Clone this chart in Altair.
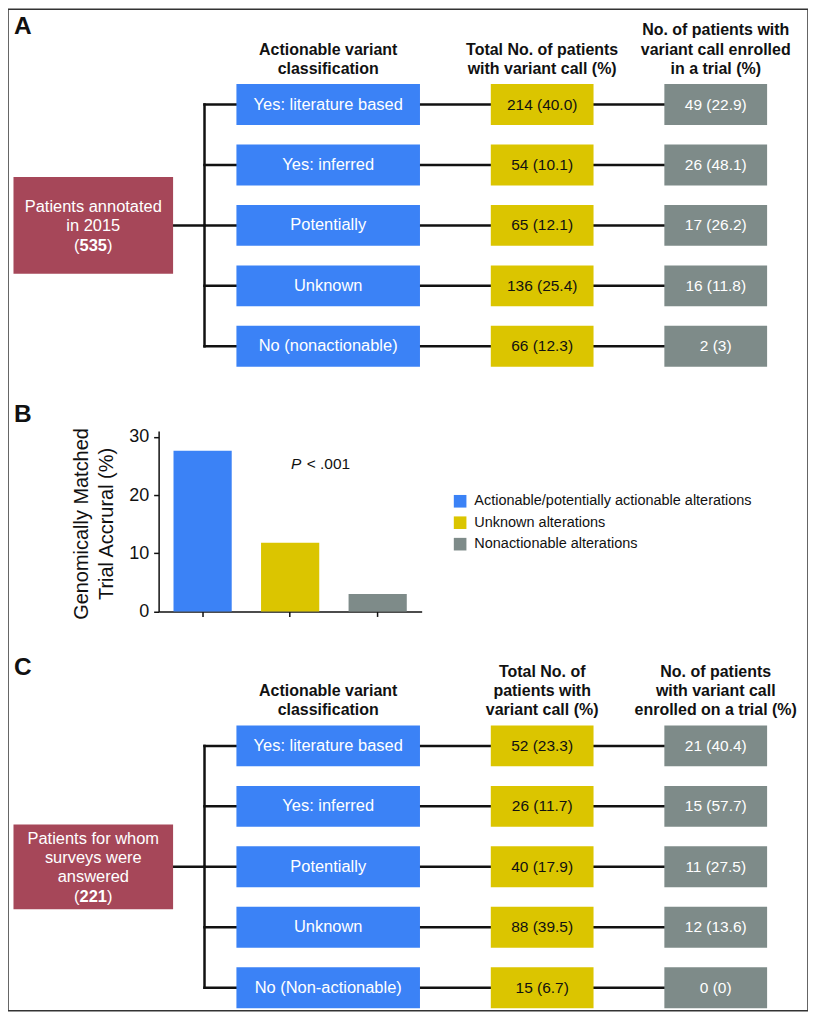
import altair as alt
import pandas as pd

# ------------------------------------------------------------------ data
panel_letters = ["A", "B", "C"]

classes_A = ["Yes: literature based", "Yes: inferred", "Potentially", "Unknown", "No (nonactionable)"]
total_A = ["214 (40.0)", "54 (10.1)", "65 (12.1)", "136 (25.4)", "66 (12.3)"]
enrolled_A = ["49 (22.9)", "26 (48.1)", "17 (26.2)", "16 (11.8)", "2 (3)"]
root_A_lines = ["Patients annotated", "in 2015"]
root_A_n = "535"
headers_A = [["Actionable variant", "classification"],
             ["Total No. of patients", "with variant call (%)"],
             ["No. of patients with", "variant call enrolled", "in a trial (%)"]]

classes_C = ["Yes: literature based", "Yes: inferred", "Potentially", "Unknown", "No (Non-actionable)"]
total_C = ["52 (23.3)", "26 (11.7)", "40 (17.9)", "88 (39.5)", "15 (6.7)"]
enrolled_C = ["21 (40.4)", "15 (57.7)", "11 (27.5)", "12 (13.6)", "0 (0)"]
root_C_lines = ["Patients for whom", "surveys were", "answered"]
root_C_n = "221"
headers_C = [["Actionable variant", "classification"],
             ["Total No. of", "patients with", "variant call (%)"],
             ["No. of patients", "with variant call", "enrolled on a trial (%)"]]

bar_groups = ["Actionable/potentially actionable alterations", "Unknown alterations",
              "Nonactionable alterations"]
bar_values = [27.6, 11.8, 3.0]
y_ticks = [0, 10, 20, 30]
y_title_lines = ["Genomically Matched", "Trial Accrural (%)"]
p_symbol = "P"
p_rest = "< .001"

# ------------------------------------------------------------------ style / layout
FONT = "Liberation Sans"
BLUE, YELLOW, GRAY, RED, INK = "#3b82f6", "#dbc500", "#7e8b89", "#a64759", "#111111"
FILLS = [BLUE, YELLOW, GRAY]
TEXT_COLORS = ["white", "#111111", "white"]

OFF = 8                      # page margin
W, H = 802, 1004
COLS = [(237, 421), (492, 595), (666, 769)]
ROOT_X = (13.5, 173.5)
TRUNK_X = 205
ROW_TOP = 83
ROW_PITCH = 60.6
BOX_H = 41
PANEL_DY = {"A": 0, "C": 643}
ROOT_H = {"A": 97, "C": 85}
HEADER_LAST = 67.8
LINE_PITCH = 19.3
LETTER_BASE = {"A": 33.3, "B": 421.5, "C": 675.8}

SX = alt.Scale(domain=[OFF, OFF + W], range=[0, W], nice=False, zero=False)
SY = alt.Scale(domain=[OFF, OFF + H], range=[0, H], nice=False, zero=False)

# ------------------------------------------------------------------ build diagram tables
rects, rules, texts_c, texts_bold_hdr, paren_l, paren_r, bold_num = [], [], [], [], [], [], []


def add_panel(key, classes, total, enrolled, root_lines, root_n, headers):
    dy = PANEL_DY[key]
    cols_vals = [classes, total, enrolled]
    centers = []
    for i in range(len(classes)):
        top = ROW_TOP + dy + i * ROW_PITCH
        cy = top + BOX_H / 2
        centers.append(cy)
        for c, (x0, x1) in enumerate(COLS):
            rects.append(dict(x=x0, x2=x1, y=top, y2=top + BOX_H, fill=FILLS[c]))
            texts_c.append(dict(x=(x0 + x1) / 2, y=cy, text=cols_vals[c][i], color=TEXT_COLORS[c],
                                size=16.5 if c == 0 else 15.5))
        rules.append(dict(x=TRUNK_X, x2=COLS[0][0], y=cy, y2=cy))
        rules.append(dict(x=COLS[0][1], x2=COLS[1][0], y=cy, y2=cy))
        rules.append(dict(x=COLS[1][1], x2=COLS[2][0], y=cy, y2=cy))
    mid = centers[len(centers) // 2]
    rules.append(dict(x=TRUNK_X, x2=TRUNK_X, y=centers[0], y2=centers[-1]))
    rules.append(dict(x=ROOT_X[1], x2=TRUNK_X, y=mid, y2=mid))
    # root box
    rh = ROOT_H[key]
    rects.append(dict(x=ROOT_X[0], x2=ROOT_X[1], y=mid - rh / 2, y2=mid + rh / 2, fill=RED))
    n = len(root_lines) + 1
    rcx = (ROOT_X[0] + ROOT_X[1]) / 2
    for k, line in enumerate(root_lines):
        y = mid + 1 + (k - (n - 1) / 2) * LINE_PITCH
        texts_c.append(dict(x=rcx, y=y, text=line, color="white", size=16.5))
    y_last = mid + 1 + ((n - 1) / 2) * LINE_PITCH
    half = len(root_n) * 0.556 * 16.5 / 2
    paren_l.append(dict(x=rcx - half, y=y_last, text="(", color="white"))
    paren_r.append(dict(x=rcx + half, y=y_last, text=")", color="white"))
    bold_num.append(dict(x=rcx, y=y_last, text=root_n, color="white"))
    # headers (bottom aligned)
    for c, lines in enumerate(headers):
        x0, x1 = COLS[c]
        for k, line in enumerate(lines):
            y = HEADER_LAST + dy - (len(lines) - 1 - k) * LINE_PITCH
            texts_bold_hdr.append(dict(x=(x0 + x1) / 2, y=y, text=line, color=INK))


add_panel("A", classes_A, total_A, enrolled_A, root_A_lines, root_A_n, headers_A)
add_panel("C", classes_C, total_C, enrolled_C, root_C_lines, root_C_n, headers_C)

letters = pd.DataFrame([dict(x=14, y=LETTER_BASE[k], text=k, color=INK) for k in panel_letters])
ytitle = pd.DataFrame([dict(x=82 + 25 * k, y=524, text=t, color=INK) for k, t in enumerate(y_title_lines)])
pval_i = pd.DataFrame([dict(x=291.7, y=464, text=p_symbol, color=INK)])
pval_r = pd.DataFrame([dict(x=307.5, y=464, text=p_rest, color=INK)])


def xy(df):
    return dict(x=alt.X("x:Q", scale=SX, axis=None), y=alt.Y("y:Q", scale=SY, axis=None))


def text_layer(df, **props):
    base = dict(font=FONT, baseline="middle", align="center")
    base.update(props)
    enc = xy(df)
    enc["text"] = alt.Text("text:N")
    enc["color"] = alt.Color("color:N", scale=None)
    if "size" in df.columns:
        enc["size"] = alt.Size("size:Q", scale=None)
    return alt.Chart(pd.DataFrame(df)).mark_text(**base).encode(**enc)


rect_df = pd.DataFrame(rects)
rect_layer = alt.Chart(rect_df).mark_rect().encode(
    x=alt.X("x:Q", scale=SX, axis=None), x2="x2:Q",
    y=alt.Y("y:Q", scale=SY, axis=None), y2="y2:Q",
    fill=alt.Fill("fill:N", scale=None),
)
rule_df = pd.DataFrame(rules)
rule_layer = alt.Chart(rule_df).mark_rule(strokeWidth=2.5, color=INK, strokeCap="square").encode(
    x=alt.X("x:Q", scale=SX, axis=None), x2="x2:Q",
    y=alt.Y("y:Q", scale=SY, axis=None), y2="y2:Q",
)

layers = [
    rule_layer,
    rect_layer,
    text_layer(pd.DataFrame(texts_c)),
    text_layer(pd.DataFrame(texts_bold_hdr), fontWeight="bold", fontSize=16),
    text_layer(pd.DataFrame(paren_l), align="right", fontSize=16.5),
    text_layer(pd.DataFrame(paren_r), align="left", fontSize=16.5),
    text_layer(pd.DataFrame(bold_num), fontWeight="bold", fontSize=16.5),
    text_layer(letters, fontWeight="bold", fontSize=24.5, align="left", baseline="alphabetic"),
    text_layer(ytitle, fontSize=20, angle=270),
    text_layer(pval_i, fontSize=15.5, align="left", fontStyle="italic"),
    text_layer(pval_r, fontSize=15.5, align="left"),
]

# ------------------------------------------------------------------ bar chart (panel B)
BAR_X = [159 - OFF, 422.7 - OFF]
BAR_Y0 = 611.7 - OFF
PX_PER_UNIT = 5.833
Y_MAX = 31
bars_df = pd.DataFrame({"group": bar_groups, "value": bar_values})
bars = alt.Chart(bars_df).mark_bar().encode(
    x=alt.X("group:N", sort=bar_groups, title=None,
            scale=alt.Scale(range=BAR_X, paddingInner=0.335, paddingOuter=0.17),
            axis=alt.Axis(orient="bottom", offset=BAR_Y0 - H, labels=False, tickSize=5,
                          domainColor=INK, tickColor=INK, domainWidth=1.5, tickWidth=1.5,
                          grid=False, title=None)),
    y=alt.Y("value:Q", title=None,
            scale=alt.Scale(domain=[0, Y_MAX], range=[BAR_Y0, BAR_Y0 - Y_MAX * PX_PER_UNIT],
                            nice=False, zero=True),
            axis=alt.Axis(orient="left", offset=-(159 - OFF), values=y_ticks, tickSize=5,
                          labelFontSize=18, labelFont=FONT, labelColor=INK, labelPadding=5,
                          domainColor=INK, tickColor=INK, domainWidth=1.5, tickWidth=1.5,
                          grid=False, title=None)),
    color=alt.Color("group:N", sort=bar_groups,
                    scale=alt.Scale(domain=bar_groups, range=FILLS),
                    legend=alt.Legend(orient="none", legendX=446, legendY=486, title=None,
                                      symbolType="square", symbolSize=160, symbolStrokeWidth=0,
                                      labelFontSize=14.5, labelFont=FONT, labelColor=INK,
                                      labelOffset=7, rowPadding=6.5, padding=0, labelLimit=400)),
)
layers.append(bars)

chart = alt.layer(*layers).resolve_scale(
    x="independent", y="independent", color="independent", size="independent"
).properties(width=W, height=H, padding=0).configure_view(stroke="#333333", strokeWidth=1.5)

chart.save("out.html", embed_options={"renderer": "svg", "actions": False})
